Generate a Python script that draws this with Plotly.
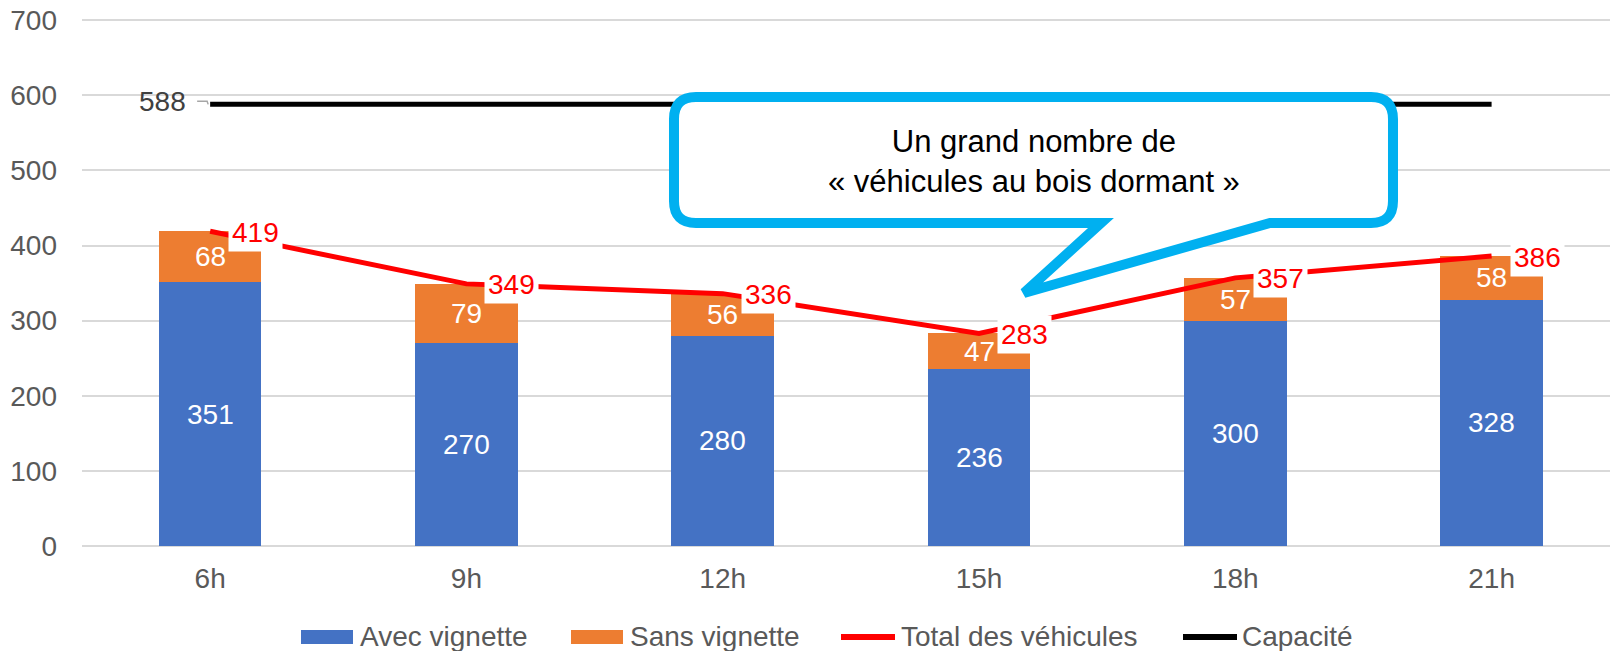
import plotly.graph_objects as go

# ---- data ----
categories = ["6h", "9h", "12h", "15h", "18h", "21h"]
avec_vignette = [351, 270, 280, 236, 300, 328]
sans_vignette = [68, 79, 56, 47, 57, 58]
total_vehicules = [419, 349, 336, 283, 357, 386]
capacite = [588, 588, 588, 588, 588, 588]
y_ticks = [0, 100, 200, 300, 400, 500, 600, 700]
series_names = ["Avec vignette", "Sans vignette", "Total des véhicules", "Capacité"]
callout_text = "Un grand nombre de<br>« véhicules au bois dormant »"

# ---- style ----
W, H = 1610, 651
ML, MR, MT, MB = 82, 0, 18, 105
FONT = "Liberation Sans, Arial, sans-serif"
BLUE, ORANGE, RED, BLACK = "#4472C4", "#ED7D31", "#FF0000", "#000000"
CALLOUT = "#00B0F0"
GRID = "#D9D9D9"
TXT = "#595959"
FS = 28

PW, PH = W - ML - MR, H - MT - MB


def px(x):
    return (x - ML) / PW


def py(y):
    return (H - MB - y) / PH


fig = go.Figure()
fig.add_trace(go.Bar(name=series_names[0], x=categories, y=avec_vignette,
                     marker=dict(color=BLUE, line=dict(width=0))))
fig.add_trace(go.Bar(name=series_names[1], x=categories, y=sans_vignette,
                     marker=dict(color=ORANGE, line=dict(width=0))))
fig.add_trace(go.Scatter(name=series_names[2], x=categories, y=total_vehicules,
                         mode="lines", line=dict(color=RED, width=5)))
fig.add_trace(go.Scatter(name=series_names[3], x=categories, y=capacite,
                         mode="lines", line=dict(color=BLACK, width=5)))

annotations = []
for c, a, s in zip(categories, avec_vignette, sans_vignette):
    annotations.append(dict(x=c, y=a / 2, text=str(a), showarrow=False,
                            font=dict(color="white", size=FS, family=FONT)))
    annotations.append(dict(x=c, y=a + s / 2, text=str(s), showarrow=False,
                            font=dict(color="white", size=FS, family=FONT)))
for c, t in zip(categories, total_vehicules):
    annotations.append(dict(x=c, y=t, text=str(t), showarrow=False,
                            xanchor="left", xshift=18, yshift=-1,
                            bgcolor="white", borderpad=3,
                            font=dict(color=RED, size=FS, family=FONT)))
annotations.append(dict(x=categories[0], y=capacite[0], text=str(capacite[0]),
                        showarrow=False, xanchor="right", xshift=-22, yshift=3,
                        font=dict(color="#404040", size=FS, family=FONT)))

# callout bubble
L, R, T, B, r = 674, 1393, 97, 223, 22
bL, bR, tipx, tipy = 1101, 1270, 1024, 293
pts = [("M", L + r, T), ("L", R - r, T), ("Q", R, T, R, T + r), ("L", R, B - r),
       ("Q", R, B, R - r, B), ("L", bR, B), ("L", tipx, tipy), ("L", bL, B),
       ("L", L + r, B), ("Q", L, B, L, B - r), ("L", L, T + r), ("Q", L, T, L + r, T)]
path = ""
for p in pts:
    cmd, coords = p[0], p[1:]
    pairs = [f"{px(coords[i]):.5f},{py(coords[i + 1]):.5f}" for i in range(0, len(coords), 2)]
    path += cmd + " ".join(pairs) + " "
path += "Z"

shapes = [
    dict(type="path", path=path, xref="paper", yref="paper", layer="above",
         line=dict(color=CALLOUT, width=10), fillcolor="white"),
    # leader line for 588 label
    dict(type="path", xref="x", yref="y", xsizemode="pixel", ysizemode="pixel",
         xanchor=0, yanchor=capacite[0], path="M-13,3 L-3,3 L-2,0",
         line=dict(color="#A6A6A6", width=1.5)),
]

annotations.append(dict(x=px((L + R) / 2), y=py(161.5), xref="paper", yref="paper",
                        text=callout_text, showarrow=False, align="center",
                        xanchor="center", yanchor="middle",
                        font=dict(color="black", size=31, family=FONT)))

# ---- legend (drawn as swatches + text) ----
LEG_Y = 637
leg_items = [
    (series_names[0], "rect", BLUE, 301, 358),
    (series_names[1], "rect", ORANGE, 571, 628),
    (series_names[2], "line", RED, 841, 899),
    (series_names[3], "line", BLACK, 1183, 1240),
]
for name, kind, color, x0, tx in leg_items:
    if kind == "rect":
        shapes.append(dict(type="rect", xref="paper", yref="paper",
                           x0=px(x0), x1=px(x0 + 52), y0=py(LEG_Y - 7), y1=py(LEG_Y + 7),
                           fillcolor=color, line=dict(width=0)))
    else:
        shapes.append(dict(type="line", xref="paper", yref="paper",
                           x0=px(x0), x1=px(x0 + 54), y0=py(LEG_Y), y1=py(LEG_Y),
                           line=dict(color=color, width=6)))
    annotations.append(dict(x=px(tx), y=py(LEG_Y - 1), xref="paper", yref="paper",
                            text=name, showarrow=False, xanchor="left", yanchor="middle",
                            font=dict(color=TXT, size=FS, family=FONT)))

fig.update_layout(
    width=W, height=H,
    margin=dict(l=ML, r=MR, t=MT, b=MB, autoexpand=False),
    barmode="stack", bargap=0.6,
    plot_bgcolor="white", paper_bgcolor="white",
    font=dict(family=FONT, size=FS, color=TXT),
    xaxis=dict(range=[-0.5, 5.462], showgrid=False, showline=False, zeroline=False,
               automargin=False,
               ticks="", ticklabelstandoff=13, tickfont=dict(size=FS, color=TXT)),
    yaxis=dict(range=[0, 703], tickvals=y_ticks,
               showgrid=True, gridcolor=GRID, gridwidth=1.5,
               zeroline=True, zerolinecolor=GRID, zerolinewidth=1.5, showline=False,
               automargin=False,
               ticks="", ticklabelstandoff=24, tickfont=dict(size=FS, color=TXT)),
    annotations=annotations,
    shapes=shapes,
    showlegend=False,
)

fig.write_html("out.html", config={"displayModeBar": False},
               post_script="document.body.style.margin='0';document.body.style.overflow='hidden';")
